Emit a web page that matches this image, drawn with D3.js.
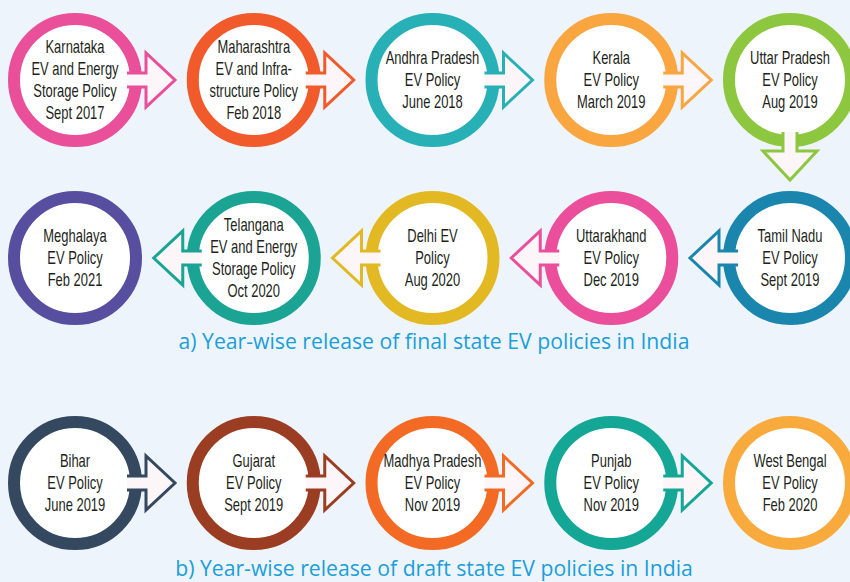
<!DOCTYPE html>
<html>
<head>
<meta charset="utf-8">
<script src="https://cdn.jsdelivr.net/npm/d3@7"></script>
<style>
  html, body { margin: 0; padding: 0; background: #eef4fb; }
  svg { display: block; }
  .lbl { font-family: "Liberation Sans", Arial, sans-serif; font-size: 18px; fill: #231f20; }
  .cap { font-family: "Open Sans", sans-serif; font-size: 21.2px; fill: #1a9fda; }
</style>
</head>
<body>
<svg id="canvas" width="850" height="582"></svg>
<script>
// final policies, in release order
var finalNames = [
  ["Karnataka", "EV and Energy", "Storage Policy"],
  ["Maharashtra", "EV and Infra-", "structure Policy"],
  ["Andhra Pradesh", "EV Policy"],
  ["Kerala", "EV Policy"],
  ["Uttar Pradesh", "EV Policy"],
  ["Tamil Nadu", "EV Policy"],
  ["Uttarakhand", "EV Policy"],
  ["Delhi EV", "Policy"],
  ["Telangana", "EV and Energy", "Storage Policy"],
  ["Meghalaya", "EV Policy"]
]
var finalDates = ["Sept 2017", "Feb 2018", "June 2018", "March 2019", "Aug 2019",
                  "Sept 2019", "Dec 2019", "Aug 2020", "Oct 2020", "Feb 2021"]
var finalColors = ["#ea4f9a", "#f15a2b", "#27b0b6", "#f9a540", "#8dc63f",
                   "#1b86ad", "#eb4f9b", "#e2b923", "#1ba393", "#574ea0"]

// draft policies
var draftNames = [["Bihar", "EV Policy"], ["Gujarat", "EV Policy"], ["Madhya Pradesh", "EV Policy"],
                  ["Punjab", "EV Policy"], ["West Bengal", "EV Policy"]]
var draftDates = ["June 2019", "Sept 2019", "Nov 2019", "Nov 2019", "Feb 2020"]
var draftColors = ["#344960", "#9b3d22", "#f26a23", "#14a796", "#f8aa3c"]

var captions = ["a) Year-wise release of final state EV policies in India",
                "b) Year-wise release of draft state EV policies in India"]

var canvas = d3.select("#canvas")

var x = d3.scalePoint().domain(d3.range(5)).range([75, 790])
var rowY = d3.scaleOrdinal().domain(["f0", "f1", "d0"]).range([80, 258, 483])
var R = 61, lineH = 22

function build(names, dates, colors, rows) {
  return names.map(function(n, i) {
    var row = Math.floor(i / 5), col = i % 5
    if (row % 2 == 1) col = 4 - col  // snake back
    return { lines: n.concat([dates[i]]), color: colors[i],
             cx: x(col), cy: rowY(rows[row]) }
  })
}

var nodes = build(finalNames, finalDates, finalColors, ["f0", "f1"])
  .concat(build(draftNames, draftDates, draftColors, ["d0"]))

// arrows between consecutive nodes of each group
var links = []
nodes.forEach(function(d, i) {
  var next = nodes[i + 1]
  if (!next || i == 9) return
  links.push({ from: d, to: next })
})

canvas.selectAll(".ring").data(nodes).enter().append("circle")
  .attr("class", "ring")
  .attr("cx", function(d) { return d.cx })
  .attr("cy", function(d) { return d.cy })
  .attr("r", R)
  .style("fill", "#fff")
  .style("stroke", function(d) { return d.color })
  .style("stroke-width", 12)

function arrowPath() {
  // pointing right, origin at circle centre
  var x0 = 52, xb = 71, tip = 100, h = 7, H = 27
  return "M" + x0 + "," + (-h) + "L" + xb + "," + (-h) + "L" + xb + "," + (-H) +
         "L" + tip + ",0L" + xb + "," + H + "L" + xb + "," + h + "L" + x0 + "," + h
}

canvas.selectAll(".arrow").data(links).enter().append("path")
  .attr("class", "arrow")
  .attr("d", arrowPath())
  .attr("transform", function(d) {
    var a = Math.atan2(d.to.cy - d.from.cy, d.to.cx - d.from.cx) * 180 / Math.PI
    return "translate(" + d.from.cx + "," + d.from.cy + ") rotate(" + a + ")"
  })
  .style("fill", "#fdf6f8")
  .style("stroke", function(d) { return d.from.color })
  .style("stroke-width", 3)
  .style("stroke-linejoin", "miter")

// condensed look: squeeze the text horizontally
var lbl = canvas.selectAll(".lbl").data(nodes).enter().append("text")
  .attr("class", "lbl")
  .attr("text-anchor", "middle")
  .attr("transform", function(d) { return "translate(" + d.cx + "," + d.cy + ") scale(0.72,1)" })

lbl.selectAll("tspan").data(function(d) {
    return d.lines.map(function(t, j) {
      return { t: t, y: (j - (d.lines.length - 1) / 2) * lineH }
    })
  }).enter().append("tspan")
  .attr("x", 0)
  .attr("y", function(d) { return d.y })
  .attr("dy", "0.36em")
  .text(function(d) { return d.t })

canvas.selectAll(".cap").data(captions).enter().append("text")
  .attr("class", "cap")
  .attr("x", 434)
  .attr("y", function(d, i) { return i == 0 ? 349 : 576 })
  .attr("text-anchor", "middle")
  .text(function(d) { return d })
</script>
</body>
</html>
